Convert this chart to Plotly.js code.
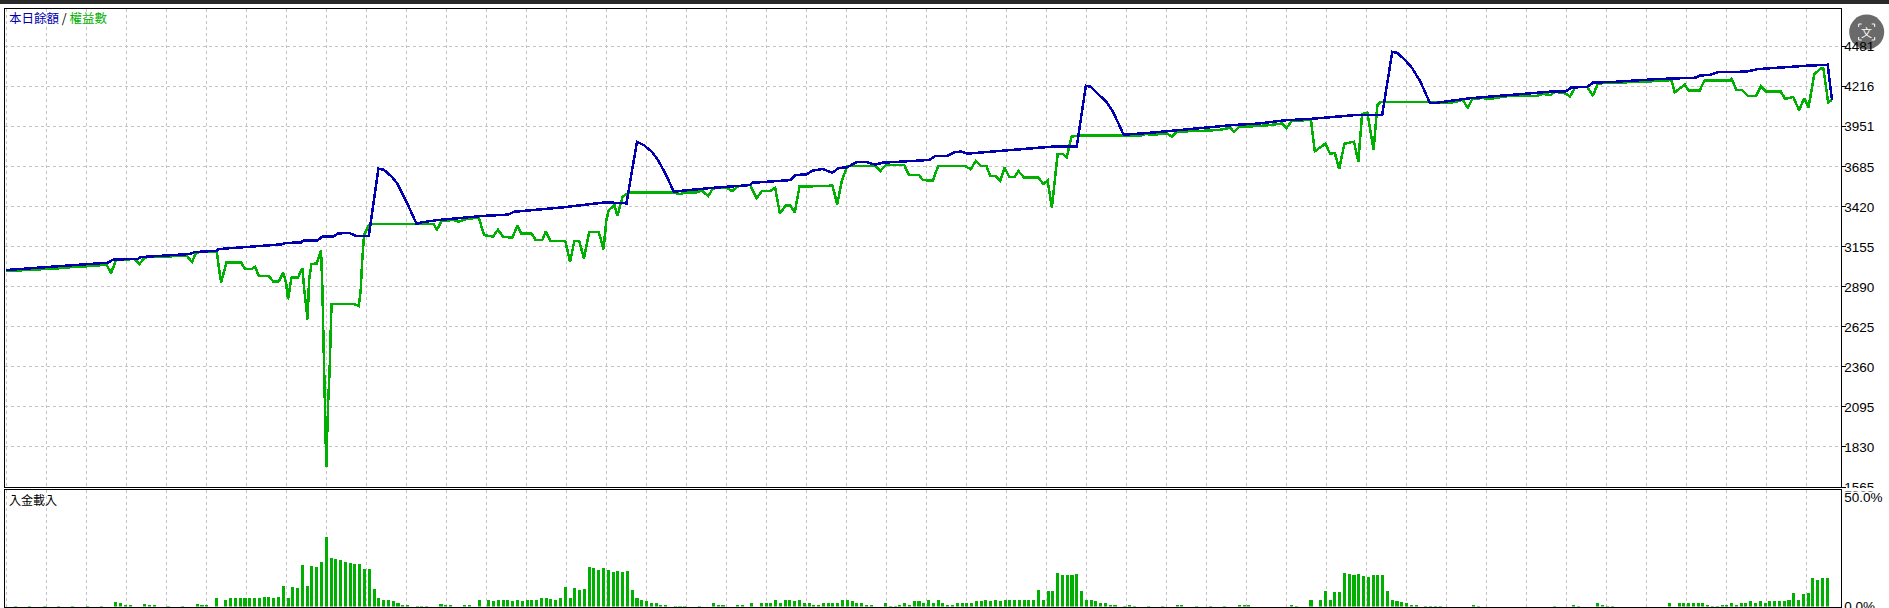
<!DOCTYPE html>
<html>
<head>
<meta charset="utf-8">
<script src="https://cdn.plot.ly/plotly-3.0.1.min.js"></script>
<style>html,body{margin:0;padding:0;background:#fff;overflow:hidden}
.scatterlayer path.js-line{shape-rendering:crispEdges}</style>
</head>
<body>
<div id="chart" style="width:1889px;height:608px"></div>
<script>
const balanceX = [0,21.4,22.4,27.7,28.2,38.3,39.5,44.1,44.5,57.6,58.6,61.7,62.2,65.1,66.2,68.5,69.5,71.9,73.1,75.9,77.9,79,80.7,81.9,83.6,85.9,87,90.3,99.6,105,106.3,116.4,124.8,126.9,129.8,132,133.4,135.1,136.4,138.1,139.7,141.4,147.3,155.7,156.1,164.1,165.1,167.5,168.7,170.8,172.9,174.2,175.9,178,180.1,181.8,183.4,193.1,194.4,196.9,198.6,199.8,201.1,206.1,218.7,224,225.9,226.9,228.2,230.3,231.6,232.7,233.8,239.7,256.6,262.3,267.3,273.2,282.5,287.9,290,291,292.7,294.2,295.9,297.9,299.3,306,314.4,323.6,326.3,327.4,330.8,332,336.7,345.5,353.5,354.3,356.4,358.1,364,366.5,376.6,381.1,382];
const balanceY = [3002,3051,3071,3077,3088,3108,3121,3130,3141,3172,3181,3185,3196,3199,3223,3223,3245,3247,3229,3229,3673,3667,3620,3572,3466,3307,3318,3333,3360,3369,3388,3417,3448,3448,3444,3852,3830,3786,3731,3631,3521,3527,3545,3565,3580,3598,3631,3636,3660,3671,3647,3678,3682,3717,3717,3700,3713,3731,3757,3757,3784,3786,3773,3786,3819,3819,4223,4216,4176,4113,4050,3974,3898,3912,3962,3973,3993,4004,4029,4029,4448,4441,4393,4338,4249,4108,4110,4139,4161,4185,4185,4210,4216,4243,4249,4267,4276,4291,4294,4313,4316,4333,4355,4362,4128];
const equityX = [0,13,13.7,16.4,21,22,23,26.9,27.9,29,37.8,38.9,39.8,43.7,44.1,44.6,45,46.1,49.2,50,51.4,52.1,52.9,55,55.9,57,58,58.6,59,59.7,61.1,62,62.4,63.1,63.4,63.9,65,65.9,66.2,66.4,66.6,66.8,67,67.2,67.4,67.7,67.9,68.1,72.7,73.8,74.2,74.5,74.9,75.9,76.5,89.5,90.1,91.2,93.7,94.7,96.2,98.9,100,101.9,102.9,104,105.9,107,107.8,109.9,110.8,112.2,112.9,113.9,117,118,118.9,119.9,120.9,122,124,125,125.6,126.1,127.3,127.9,129,130.3,130.5,139.7,141,141.8,144.4,145.6,146.9,147.9,150.7,151.9,153.2,155.7,157,158.2,159.9,160.9,161.9,163.1,164.1,165,166,172.9,173.9,174.9,176,181.8,182.9,184.1,187.9,188.9,191,191.8,193.9,195,200.7,201.8,202.9,203.9,205.1,205.9,207,208,208.9,209.9,211,211.8,213,216,217,217.9,218.8,220,221.1,221.9,222.9,224.2,233.8,237.2,238.3,240,242.8,243.9,244.9,248.4,251.2,254,256.1,256.9,258,262.3,265.2,266.9,267.9,269,273,273.8,276,277,278,278.9,280,282,282.9,283.7,284.8,286.1,286.9,287.5,297.6,301.8,303.5,304.7,305.8,306.8,309,310.2,314.4,320.3,321.5,323.2,324,326.2,327.2,328.3,330.8,332,333,345.5,348.4,349.1,351.2,352,354.3,355.3,360.6,361,362,363.1,364.4,366.1,367.1,368.2,371.3,372.2,373.9,375.1,376.2,377.1,378.3,379.7,380.2,381.2,382];
const equityY = [2995,3017,3024,3026,3037,2982,3068,3075,3042,3086,3097,3055,3119,3126,3121,3002,2920,3051,3051,3009,3009,3024,2962,2962,2925,2925,2984,2914,2808,2951,2953,3015,2870,2675,2936,3042,3046,3135,2870,2560,2273,1987,1695,1920,2130,2340,2560,2777,2777,2764,2870,3057,3234,3300,3307,3307,3267,3329,3333,3322,3338,3351,3234,3223,3269,3223,3216,3296,3245,3245,3201,3201,3256,3196,3196,3055,3196,3196,3079,3254,3254,3139,3333,3399,3432,3362,3488,3514,3514,3514,3505,3514,3516,3527,3492,3543,3547,3525,3558,3565,3477,3527,3527,3547,3377,3428,3428,3384,3554,3561,3437,3598,3691,3693,3658,3698,3698,3631,3631,3598,3594,3691,3691,3669,3726,3693,3691,3625,3625,3592,3680,3618,3618,3658,3614,3614,3572,3594,3417,3770,3770,3748,3885,3892,3892,3890,3903,3898,3907,3887,3918,3923,3925,3931,3945,3916,3951,3956,3965,3973,3943,3991,3996,3788,3839,3773,3777,3671,3839,3852,3720,4035,4044,3801,4095,4115,4115,4110,4117,4132,4075,4137,4141,4135,4155,4155,4168,4161,4183,4172,4152,4212,4216,4155,4238,4254,4260,4179,4230,4190,4190,4256,4256,4269,4196,4196,4155,4155,4218,4183,4183,4135,4148,4062,4139,4079,4300,4338,4336,4113,4128];

const loadX = [2,5,8,11,14,17,20,23,24,25,26,29,30,31,34,37,40,41,42,44,46,47,48,49,50,51,52,53,54,55,56,57,58,59,60,61,62,63,64,65,66,67,68,69,70,71,72,73,74,75,76,77,78,79,80,81,82,83,84,86,87,88,91,92,93,96,97,99,101,102,103,104,105,106,107,108,109,110,111,112,113,114,115,116,117,118,119,120,121,122,123,124,125,126,127,128,129,130,131,132,133,134,135,136,137,138,140,141,142,145,148,149,150,153,154,156,158,159,160,161,162,163,164,165,166,167,168,169,170,171,172,173,174,175,176,177,178,179,180,181,184,185,186,187,188,189,190,191,192,193,194,195,196,197,198,199,200,201,202,203,204,205,206,207,208,209,210,211,212,213,214,215,216,217,218,219,220,221,222,223,224,225,226,227,228,229,230,231,232,234,235,236,239,242,245,246,249,252,255,258,259,260,269,270,273,275,276,277,278,279,280,281,282,283,284,285,286,287,288,289,290,291,292,293,294,295,297,298,299,300,307,308,324,328,329,333,334,335,336,348,350,351,352,353,354,355,356,357,358,359,360,361,362,363,364,365,366,367,368,369,370,371,372,373,374,375,376,377,378,379,380,381];
const loadY = [0.3,0.3,0.3,0.3,0.3,0.3,0.3,2.2,1.4,0.9,0.8,1.2,0.8,0.5,0.3,0.3,1.2,0.9,0.6,3.7,3.2,3.7,3.7,3.7,3.7,4,3.85,3.7,4.2,4.2,3.85,4.2,9.2,3.7,8.8,8.3,18.9,9.2,18.5,18,20.3,31.7,22.2,21.7,21.3,20.3,19.9,19.4,19.4,17.1,17.1,7.9,3.7,3.2,2.8,2.3,1.8,0.9,0.6,0.3,0.3,0.3,1.2,0.9,0.5,0.8,0.5,2.8,3.1,2.3,3.1,3.1,3.2,2.3,2.8,2.3,2.8,3.2,3.1,3.7,3.7,3.4,3.2,3.7,8.8,3.7,8.3,7.7,7.9,18,17.6,16.6,17.6,16.6,15.7,16.2,15.7,16.2,7.4,3.7,3.2,2.3,1.8,1.4,0.9,0.5,0.3,0.3,0.3,0.3,1.4,0.9,0.5,0.9,0.5,1.8,1.4,1.4,1.8,3.2,1.8,3.2,3.2,2.3,3.2,1.8,1.4,0.9,0.9,1.4,1.4,1.8,1.8,3.2,2.8,2.3,1.8,1.4,0.9,0.5,1.4,0.3,0.3,0.9,1.8,0.9,2.3,2.3,1.8,2.8,1.8,2.8,1.4,0.9,0.9,1.4,1.4,1.8,1.8,2.3,2.3,2.8,2.3,2.8,2.3,2.8,2.8,3.2,3.2,2.8,2.8,3.2,7.4,3.2,6.9,6.9,15.2,14.3,14.3,14.3,14.8,6.9,3.2,2.8,2.3,1.8,1.4,0.9,0.5,0.3,0.5,0.3,0.3,0.3,0.9,0.5,0.3,0.3,0.3,0.9,0.5,0.5,0.9,0.3,2.8,3.2,6.9,2.8,6.5,6.5,15.2,14.8,14.3,14.8,13.9,13.4,14.3,14.3,14.3,6.9,2.8,2.3,2,1.4,0.9,0.5,0.3,0.3,0.3,0.3,0.9,0.3,0.3,0.9,0.3,1.4,0.9,0.3,0.3,1.8,1.8,1.8,1.8,1.8,1.4,1.8,0.9,0.3,0.3,0.9,0.9,1.8,0.9,1.8,1.8,2.3,1.8,2.3,1.8,2.3,2.3,2.3,2.3,2.8,6,2.8,5.5,6,12.9,12,12.9,12.9];

const mainTicks = [1565,1830,2095,2360,2625,2890,3155,3420,3685,3951,4216,4481];
const mainTickText = ["1565","1830","2095","2360","2625","2890","3155","3420","3685","3951","4216","4481"];
const loadTicks = [0,50];
const loadTickText = ["0.0%","50.0%"];

const BLUE = "#0000B0", GREEN = "#00B000", GRID = "#C4C4C4";
const W = 1889, H = 608;
const px = v => v / W, py = v => 1 - v / H;
const tickFont = {family: "Liberation Sans, Arial, sans-serif", size: 13.5, color: "#000"};
const axisCommon = {
  range: [-0.17, 383.8], tick0: 8.41, dtick: 8.368, tickmode: "linear",
  showticklabels: false, ticks: "", showgrid: true, gridcolor: GRID, griddash: "3px,3px", gridwidth: 1,
  zeroline: false, showline: true, linecolor: "#000", linewidth: 1, mirror: true, fixedrange: true
};
const traces = [
  {type: "scatter", mode: "lines", x: equityX, y: equityY, xaxis: "x", yaxis: "y",
   line: {color: GREEN, width: 2.5, simplify: false}, hoverinfo: "skip", name: "權益數"},
  {type: "scatter", mode: "lines", x: balanceX, y: balanceY, xaxis: "x", yaxis: "y",
   line: {color: BLUE, width: 2.5, simplify: false}, hoverinfo: "skip", name: "本日餘額"},
  {type: "bar", x: loadX, y: loadY, xaxis: "x2", yaxis: "y2", width: 0.64,
   marker: {color: GREEN, line: {width: 0}}, hoverinfo: "skip", name: "入金載入"}
];
function seg(x0, y0, x1, y1) {
  return {type: "line", xref: "paper", yref: "paper", x0: px(x0), y0: py(y0), x1: px(x1), y1: py(y1),
    line: {color: "#fff", width: 1}, layer: "below"};
}
const cx = 1866.7, cy = 32, r = 17.5, b = 8, c = 3;
const shapes = [
  {type: "rect", xref: "paper", yref: "paper", x0: 0, x1: 1, y0: py(4), y1: 1, fillcolor: "#2A2A2A", line: {width: 0}, layer: "above"},
  {type: "rect", xref: "paper", yref: "paper", x0: px(1842), x1: 1, y0: py(491.5), y1: py(488), fillcolor: "#fff", line: {width: 0}, layer: "above"},
  {type: "circle", xref: "paper", yref: "paper", x0: px(cx - r), x1: px(cx + r), y0: py(cy + r), y1: py(cy - r), fillcolor: "#6A6A6A", line: {width: 0}, layer: "below"},
  seg(cx-b,cy-b,cx-b+c,cy-b), seg(cx-b,cy-b,cx-b,cy-b+c), seg(cx+b,cy-b,cx+b-c,cy-b), seg(cx+b,cy-b,cx+b,cy-b+c),
  seg(cx-b,cy+b,cx-b+c,cy+b), seg(cx-b,cy+b,cx-b,cy+b-c), seg(cx+b,cy+b,cx+b-c,cy+b), seg(cx+b,cy+b,cx+b,cy+b-c)
];
const cjk = "Noto Sans CJK TC, sans-serif";
const layout = {
  width: W, height: H, margin: {l: 0, r: 0, t: 0, b: 0}, showlegend: false,
  paper_bgcolor: "#fff", plot_bgcolor: "#fff", bargap: 0,
  xaxis: Object.assign({domain: [px(5.2), px(1840.6)], anchor: "y"}, axisCommon),
  xaxis2: Object.assign({domain: [px(5.2), px(1840.6)], anchor: "y2"}, axisCommon),
  yaxis: {domain: [py(487), py(9)], range: [1565, 4731], anchor: "x", side: "right",
    tickmode: "array", tickvals: mainTicks, ticktext: mainTickText, tickfont: tickFont,
    ticks: "outside", ticklen: 4, tickcolor: "#000", tickwidth: 1, ticklabelstandoff: -4, ticklabeloverflow: "allow",
    showgrid: true, gridcolor: GRID, griddash: "3px,3px", gridwidth: 1,
    zeroline: false, showline: true, linecolor: "#000", linewidth: 1, mirror: true, fixedrange: true},
  yaxis2: {domain: [py(606.5), py(489.5)], range: [0, 53.5], anchor: "x2", side: "right",
    tickmode: "array", tickvals: loadTicks, ticktext: loadTickText, tickfont: tickFont,
    ticks: "", showgrid: false, ticklabeloverflow: "allow",
    zeroline: false, showline: true, linecolor: "#000", linewidth: 1, mirror: true, fixedrange: true},
  shapes: shapes,
  annotations: [
    {xref: "paper", yref: "paper", x: px(7), y: py(17.5), xanchor: "left", yanchor: "middle", showarrow: false,
     text: '<span style="color:#0000B0">本日餘額</span><span style="color:#000"> / </span><span style="color:#00B000">權益數</span>',
     font: {family: cjk, size: 12.5}},
    {xref: "paper", yref: "paper", x: px(7), y: py(499), xanchor: "left", yanchor: "middle", showarrow: false,
     text: "入金載入", font: {family: cjk, size: 12, color: "#000"}},
    {xref: "paper", yref: "paper", x: px(cx), y: py(cy), xanchor: "center", yanchor: "middle", showarrow: false,
     text: "文", font: {family: cjk, size: 11, color: "#fff"}}
  ]
};
Plotly.newPlot("chart", traces, layout, {staticPlot: true, displayModeBar: false});
</script>
</body>
</html>
